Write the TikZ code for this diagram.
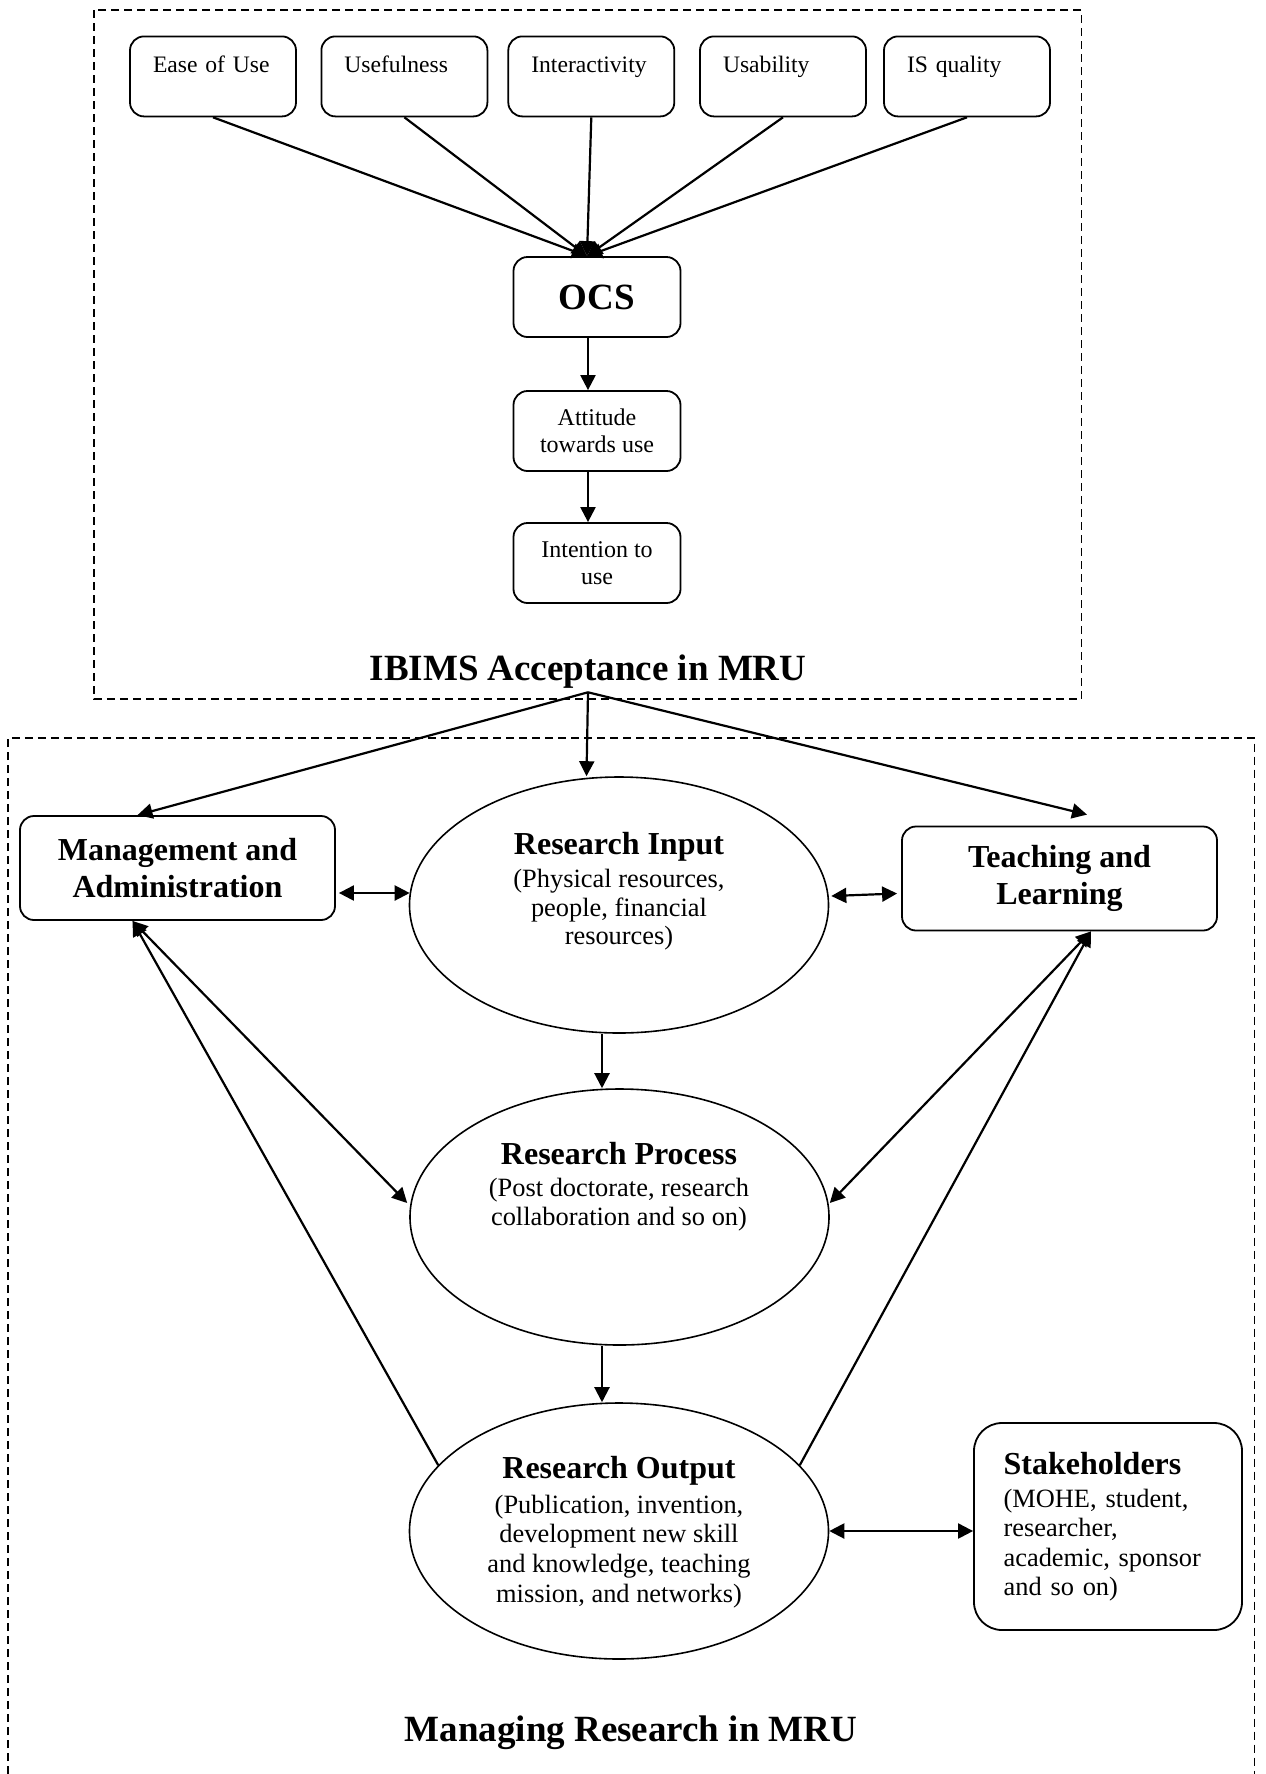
\documentclass[tikz,border=0pt]{standalone}
\usepackage{fontspec}
\setmainfont{Liberation Serif}
\usetikzlibrary{arrows.meta,shapes.geometric,calc}

\tikzset{
  conn/.style={line width=1.1pt, -{Triangle[width=7.5pt,length=7.5pt]}},
  biconn/.style={line width=1.1pt, {Triangle[width=7.5pt,length=7.5pt]}-{Triangle[width=7.5pt,length=7.5pt]}},
  frame/.style={line width=0.8pt, dash pattern=on 4pt off 2.5pt},
  factorbox/.style={draw, line width=0.9pt, rounded corners=7pt, align=left, text width=60pt,
    inner xsep=11.5pt, inner ysep=9.75pt, text height=8.5pt, text depth=12pt,
    font=\fontsize{11.8}{13.3}\selectfont},
  flowbox/.style={draw, line width=0.9pt, rounded corners=7pt, align=center, inner sep=0pt,
    minimum width=83.5pt, minimum height=40pt, font=\fontsize{12}{13.3}\selectfont},
  areabox/.style={draw, line width=0.9pt, rounded corners=7pt, align=center, inner sep=0pt,
    minimum width=157.5pt, minimum height=52pt, font=\fontsize{16}{18.3}\selectfont\bfseries},
  oval/.style={draw, ellipse, line width=0.8pt, inner sep=0pt, minimum width=209.5pt, minimum height=128pt},
  ovaltext/.style={align=center, inner sep=0pt, font=\fontsize{13.2}{14.3}\selectfont},
  heading/.style={anchor=base, inner sep=2pt, font=\fontsize{18.5}{20}\selectfont\bfseries}
}

\begin{document}
\begin{tikzpicture}[x=0.5pt,y=0.5pt,yscale=-1,xscale=1]
\useasboundingbox (0,0) rectangle (1265,1774);

%Dashed frames
\draw [frame] (94,10) rectangle (1081.5,699);
\draw [frame] (8,1774) -- (8,738) -- (1254.5,738) -- (1254.5,1774);

%Factor boxes
\draw (213,76.4) node (ease) [factorbox] {Ease of Use};
\draw (404.4,76.4) node (useful) [factorbox] {Usefulness};
\draw (591.3,76.4) node (inter) [factorbox] {Interactivity};
\draw (783,76.4) node (usab) [factorbox] {Usability};
\draw (967,76.4) node (isq) [factorbox] {IS quality};

%Acceptance chain
\draw (597,297) node (ocs) [flowbox, font=\fontsize{18.5}{20}\selectfont\bfseries] {OCS};
\draw (597,431) node (att) [flowbox] {Attitude\\towards use};
\draw (597,563) node (intent) [flowbox] {Intention to\\use};

% Text Node
\draw (588,680) node (ibims) [heading] {IBIMS Acceptance in MRU};

%Areas
\draw (177.5,868) node (mgmt) [areabox] {Management and\\Administration};
\draw (1059.5,878.5) node (teach) [areabox] {Teaching and\\Learning};
\draw (1108,1526.5) node (stake) [draw, line width=0.9pt, rounded corners=14pt, align=left,
  text width=104.4pt, inner xsep=14.8pt, minimum height=103.5pt,
  font=\fontsize{13.2}{14.7}\selectfont]
  {\textbf{\fontsize{16}{15}\selectfont Stakeholders}\\[2pt](MOHE, student,\\researcher,\\academic, sponsor\\and so on)};

%Ellipses
\draw (619,905) node (ri) [oval] {};
\draw (619.5,1217) node (rp) [oval] {};
\draw (619,1531) node (ro) [oval] {};

% Text Node
\draw (619,891.5) node (ritext) [ovaltext] {\textbf{\fontsize{16}{15}\selectfont Research Input}\\[2pt](Physical resources,\\people, financial\\resources)};
% Text Node
\draw (619,1186.5) node (rptext) [ovaltext] {\textbf{\fontsize{16}{15}\selectfont Research Process}\\[2pt](Post doctorate, research\\collaboration and so on)};
% Text Node
\draw (619,1532) node (rotext) [ovaltext, font=\fontsize{13.2}{14.8}\selectfont] {\textbf{\fontsize{16}{15}\selectfont Research Output}\\[2.5pt](Publication, invention,\\development new skill\\and knowledge, teaching\\mission, and networks)};
% Text Node
\draw (631,1741) node (mru) [heading] {Managing Research in MRU};

%Straight Lines
\foreach \f in {ease,useful,inter,usab,isq}
  \draw [conn] (\f.south) -- ($(ocs.north)+(-10,0)$);
\draw [conn] ($(ocs.south)+(-9,0)$) -- ($(att.north)+(-9,0)$);
\draw [conn] ($(att.south)+(-9,0)$) -- ($(intent.north)+(-9,0)$);

\draw [conn] (ibims.south) -- ($(mgmt.north)+(-40,0)$);
\draw [conn] (ibims.south) -- ($(ri.north)+(-32.5,0)$);
\draw [conn] (ibims.south) -- ($(teach.north)+(27.5,-11)$);

\draw [biconn] ($(mgmt.east)+(3,25)$) -- ($(ri.west)+(1,-12)$);
\draw [biconn] ($(ri.east)+(2,-9)$) -- ($(teach.west)+(-4,15)$);

\draw [conn] ($(ri.south)+(-17,0)$) -- ($(rp.north)+(-17.5,0)$);
\draw [conn] ($(rp.south)+(-17.5,0)$) -- ($(ro.north)+(-17,0)$);

\draw [biconn] ($(mgmt.south)+(-45,0)$) -- ($(rp.west)+(-2,-14)$);
\draw [conn] (ro.160) -- ($(mgmt.south)+(-45,0)$);
\draw [biconn] ($(teach.south)+(31.5,0)$) -- ($(rp.east)+(0,-14)$);
\draw [conn] (ro.20) -- ($(teach.south)+(31.5,0)$);

\draw [biconn] (ro.east) -- (ro.east -| stake.west);

\end{tikzpicture}
\end{document}
